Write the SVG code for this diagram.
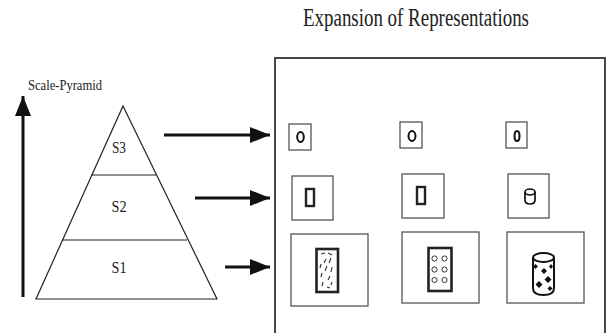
<svg xmlns="http://www.w3.org/2000/svg" width="610" height="333" viewBox="0 0 610 333">
  <style>
    .lbl { font-family: "Liberation Serif", "Times New Roman", serif; fill: #222; }
    .tri { fill: none; stroke: #222; stroke-width: 1.2; }
    .box { fill: #fff; stroke: #555; stroke-width: 1.3; }
    .frame { fill: none; stroke: #333; stroke-width: 1.8; }
    .arrow { stroke: #111; stroke-width: 3; fill: none; marker-end: url(#head); }
    .thick { fill: #fff; stroke: #222; stroke-width: 2.6; }
    .ring { fill: none; stroke: #111; stroke-width: 2; }
    .dot { fill: none; stroke: #333; stroke-width: 1; }
    .dash { stroke: #333; stroke-width: 1.1; }
    .dia { fill: #111; }
  </style>
  <defs>
    <marker id="head" markerUnits="userSpaceOnUse" markerWidth="22" markerHeight="18" refX="20" refY="8" orient="auto">
      <path d="M0,0 L20,8 L0,16 Z" fill="#111"/>
    </marker>
  </defs>

  <rect width="610" height="333" fill="#fff"/>

  <text class="lbl" x="303" y="26" font-size="25" textLength="226" lengthAdjust="spacingAndGlyphs">Expansion of Representations</text>

  <!-- scale axis -->
  <g id="scale-axis">
    <line x1="23" y1="297" x2="23" y2="96" class="arrow"/>
    <text class="lbl" x="28" y="90" font-size="14" textLength="74" lengthAdjust="spacingAndGlyphs">Scale-Pyramid</text>
  </g>

  <!-- pyramid with three scale levels -->
  <g id="pyramid">
    <path class="tri" d="M123,106 L217,299 L36,299 Z"/>
    <line class="tri" x1="91" y1="175" x2="156" y2="175"/>
    <line class="tri" x1="62" y1="240" x2="187" y2="240"/>
    <text class="lbl" x="119" y="153" font-size="16" text-anchor="middle" textLength="14" lengthAdjust="spacingAndGlyphs">S3</text>
    <text class="lbl" x="119" y="212" font-size="16" text-anchor="middle" textLength="15" lengthAdjust="spacingAndGlyphs">S2</text>
    <text class="lbl" x="119" y="273" font-size="16" text-anchor="middle" textLength="15" lengthAdjust="spacingAndGlyphs">S1</text>
  </g>

  <!-- level connectors -->
  <g id="connectors">
    <line class="arrow" x1="164" y1="135" x2="270" y2="135"/>
    <line class="arrow" x1="195" y1="198" x2="270" y2="198"/>
    <line class="arrow" x1="225" y1="267" x2="270" y2="267"/>
  </g>

  <!-- representation panel -->
  <g id="panel">
    <rect class="frame" x="275" y="58" width="330" height="290"/>
  </g>

  <!-- S3 row: coarse representations -->
  <g id="s3-a">
    <rect class="box" x="289" y="124" width="22" height="26"/>
    <ellipse class="ring" cx="300.5" cy="137" rx="3.3" ry="5"/>
  </g>
  <g id="s3-b">
    <rect class="box" x="400" y="122" width="22" height="26"/>
    <ellipse class="ring" cx="412" cy="136" rx="3.5" ry="5"/>
  </g>
  <g id="s3-c">
    <rect class="box" x="506" y="122" width="21" height="26"/>
    <ellipse class="ring" cx="517" cy="136" rx="2.5" ry="5"/>
  </g>

  <!-- S2 row -->
  <g id="s2-a">
    <rect class="box" x="292" y="176" width="41" height="44"/>
    <rect x="306" y="189" width="8" height="17" fill="#fff" stroke="#222" stroke-width="2.4"/>
  </g>
  <g id="s2-b">
    <rect class="box" x="402" y="174" width="42" height="44"/>
    <rect x="417" y="187" width="8" height="17" fill="#fff" stroke="#222" stroke-width="2.4"/>
  </g>
  <g id="s2-c">
    <rect class="box" x="508" y="174" width="41" height="44"/>
    <path d="M525,192 L525,200 Q525,204 530,204 Q535,204 535,200 L535,192" fill="none" stroke="#111" stroke-width="1.7"/>
    <ellipse cx="530" cy="192" rx="5" ry="3" fill="none" stroke="#111" stroke-width="1.7"/>
  </g>

  <!-- S1 row: fine representations -->
  <g id="s1-a">
    <rect class="box" x="291" y="234" width="77" height="72"/>
    <rect class="thick" x="316.5" y="249" width="21.5" height="43"/>
    <g class="dash">
      <line x1="321" y1="254" x2="325" y2="253"/>
      <line x1="328" y1="253" x2="332" y2="255"/>
      <line x1="326" y1="259" x2="324" y2="263"/>
      <line x1="331" y1="258" x2="329" y2="263"/>
      <line x1="321" y1="264" x2="320" y2="268"/>
      <line x1="327" y1="266" x2="325" y2="271"/>
      <line x1="332" y1="267" x2="331" y2="272"/>
      <line x1="322" y1="273" x2="321" y2="277"/>
      <line x1="330" y1="276" x2="328" y2="280"/>
      <line x1="323" y1="282" x2="322" y2="286"/>
      <line x1="327" y1="287" x2="330" y2="288"/>
      <line x1="332" y1="282" x2="331" y2="285"/>
    </g>
  </g>
  <g id="s1-b">
    <rect class="box" x="402" y="232" width="77" height="71"/>
    <rect class="thick" x="428.5" y="248" width="23" height="43"/>
    <circle class="dot" cx="434.5" cy="258.5" r="2.6"/>
    <circle class="dot" cx="444.5" cy="258.5" r="2.6"/>
    <circle class="dot" cx="434.5" cy="269.5" r="2.6"/>
    <circle class="dot" cx="444.5" cy="269.5" r="2.6"/>
    <circle class="dot" cx="434.5" cy="280" r="2.6"/>
    <circle class="dot" cx="444.5" cy="280" r="2.6"/>
  </g>
  <g id="s1-c">
    <rect class="box" x="507" y="232" width="77" height="71"/>
    <path d="M533,258 L533,288 Q533,295 543.5,295 Q554,295 554,288 L554,258" fill="#fff" stroke="#111" stroke-width="2"/>
    <ellipse cx="543.5" cy="257.5" rx="10.5" ry="4.5" fill="#fff" stroke="#111" stroke-width="2"/>
    <path class="dia" d="M535.5,264 l2.5,2.5 l-2.5,2.5 l-2.5,-2.5 Z"/>
    <path class="dia" d="M544,268 l3,3 l-3,3 l-3,-3 Z"/>
    <path class="dia" d="M551,264 l2,2.5 l-2,2.5 l-2,-2.5 Z"/>
    <path class="dia" d="M548,276 l3.5,3.5 l-3.5,3.5 l-3.5,-3.5 Z"/>
    <path class="dia" d="M539,281 l3.5,3.5 l-3.5,3.5 l-3.5,-3.5 Z"/>
    <path class="dia" d="M550,286 l2.5,2.5 l-2.5,2.5 l-2.5,-2.5 Z"/>
  </g>
</svg>
